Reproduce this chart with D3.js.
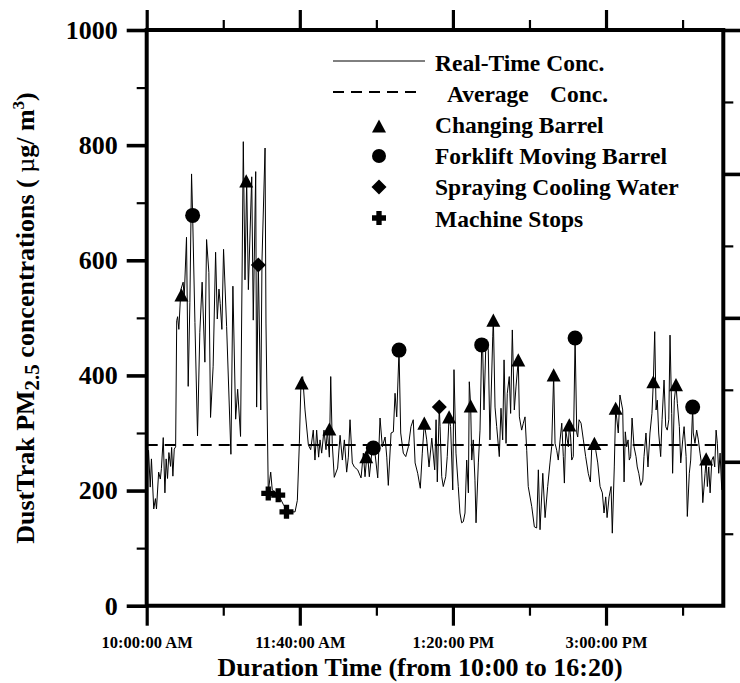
<!DOCTYPE html>
<html>
<head>
<meta charset="utf-8">
<script src="https://cdn.jsdelivr.net/npm/d3@7"></script>
<style>
  body { margin: 0; background: #fff; }
  svg { display: block; }
  text { font-family: "Liberation Serif", "Times New Roman", Times, serif; font-weight: bold; fill: #000; }
</style>
</head>
<body>
<svg id="chart" width="740" height="683"></svg>
<script>
// Real-time DustTrak PM2.5 readings: minutes after 10:00 and concentration (µg/m3)
const minutes = [
  0.0, 1.2, 2.3, 3.1, 4.6, 5.7, 6.4, 7.8, 8.9, 9.6, 10.8, 11.9, 12.7, 13.6, 14.5, 15.6, 16.3, 17.1, 18.0, 18.9,
  19.6, 20.2, 21.0, 22.3, 23.8, 24.5, 26.0, 27.1, 28.2, 29.3, 30.0, 31.5, 33.2, 34.7, 36.2, 38.0, 39.1, 40.6, 41.7, 43.4,
  45.0, 46.1, 47.2, 48.0, 49.1, 50.2, 52.2, 55.0, 56.3, 58.1, 59.4, 61.3, 63.1, 64.2, 65.3, 66.4, 68.6, 69.6, 71.2, 71.8,
  72.9, 74.5, 75.3, 77.3, 77.9, 79.4, 81.0, 82.0, 86.0, 89.2, 92.5, 96.9, 98.4, 99.7, 100.8, 101.9, 103.4, 105.6, 107.1, 108.8,
  109.9, 111.0, 112.3, 113.2, 114.3, 115.8, 117.1, 118.0, 119.3, 120.2, 121.2, 122.5, 124.7, 126.3, 127.8, 129.1, 130.6, 131.7, 132.8, 134.3,
  135.6, 137.8, 140.0, 141.5, 142.6, 144.1, 145.4, 147.4, 149.1, 150.9, 152.4, 153.9, 155.7, 156.8, 157.8, 159.6, 161.1, 162.2, 163.3, 164.8,
  165.9, 167.6, 169.2, 170.9, 172.6, 174.1, 175.3, 177.0, 178.7, 180.0, 181.3, 182.9, 184.4, 186.2, 188.1, 189.0, 189.8, 191.1, 191.6, 192.7,
  193.7, 195.3, 196.3, 197.5, 198.5, 199.9, 200.7, 202.0, 203.5, 204.6, 205.7, 206.8, 207.9, 209.0, 210.1, 210.7, 211.6, 212.3, 213.3, 214.4,
  215.1, 216.6, 217.7, 218.8, 219.5, 220.3, 221.6, 223.1, 224.2, 226.0, 226.4, 227.5, 228.6, 230.3, 231.4, 232.5, 233.4, 234.7, 235.5, 236.8,
  237.7, 238.8, 240.1, 241.2, 242.7, 243.4, 244.9, 246.0, 247.1, 248.2, 249.2, 251.5, 253.2, 254.7, 255.8, 256.9, 258.7, 260.2, 261.9, 263.4,
  264.5, 265.8, 266.7, 267.8, 268.8, 270.0, 271.1, 272.1, 272.8, 273.7, 275.4, 276.0, 276.9, 277.6, 278.6, 279.8, 280.9, 281.5, 282.4, 283.7,
  285.2, 286.7, 288.4, 289.8, 290.7, 292.4, 293.3, 294.6, 296.1, 297.6, 298.7, 299.8, 300.7, 302.0, 303.3, 304.1, 305.4, 306.3, 308.0, 309.1,
  310.9, 311.8, 312.6, 313.5, 314.4, 315.2, 316.1, 317.0, 318.3, 319.6, 320.4, 321.4, 322.7, 324.0, 324.8, 326.1, 327.4, 328.7, 330.0, 330.9,
  331.8, 332.7, 333.5, 334.4, 335.7, 336.6, 337.9, 339.0, 340.0, 341.0, 341.8, 342.9, 343.5, 344.6, 345.7, 346.6, 347.9, 348.8, 350.1, 351.0,
  352.3, 353.1, 354.4, 355.3, 356.6, 357.0, 358.1, 359.2, 360.3, 361.4, 362.3, 363.2, 364.7, 365.4, 366.2, 367.1, 368.0, 369.1, 370.1, 371.0,
  371.9, 372.7, 373.6, 374.5, 375.6
];
const conc = [
  215, 270, 206, 255, 168, 186, 168, 232, 220, 238, 292, 196, 255, 221, 266, 242, 275, 225, 272, 276,
  495, 502, 480, 549, 562, 535, 640, 381, 527, 750, 679, 492, 295, 475, 562, 423, 636, 579, 327, 416,
  614, 498, 550, 525, 480, 619, 485, 263, 555, 324, 376, 294, 806, 566, 740, 549, 745, 496, 754, 345,
  592, 340, 600, 795, 491, 198, 232, 201, 193, 176, 163, 163, 183, 282, 392, 398, 340, 279, 271, 305,
  253, 305, 258, 288, 265, 305, 271, 305, 258, 398, 282, 223, 239, 296, 253, 288, 232, 258, 323, 248,
  241, 236, 222, 265, 224, 270, 224, 276, 265, 222, 326, 276, 293, 258, 209, 300, 302, 369, 328, 444,
  300, 265, 259, 276, 311, 323, 248, 230, 204, 265, 317, 288, 241, 291, 236, 323, 215, 345, 311, 224,
  207, 224, 259, 328, 311, 201, 410, 265, 207, 161, 144, 146, 161, 253, 196, 389, 347, 253, 288, 218,
  144, 248, 305, 453, 439, 340, 462, 444, 288, 467, 500, 345, 311, 259, 343, 288, 427, 282, 369, 398,
  334, 479, 340, 380, 427, 328, 305, 317, 328, 270, 207, 172, 137, 135, 236, 132, 230, 153, 207, 248,
  276, 401, 282, 270, 253, 288, 317, 259, 213, 305, 276, 314, 293, 253, 259, 465, 300, 293, 323, 317,
  288, 259, 230, 215, 276, 282, 270, 248, 207, 196, 161, 189, 153, 189, 207, 126, 241, 343, 300, 366,
  340, 215, 302, 276, 288, 253, 259, 326, 276, 259, 241, 230, 209, 218, 259, 300, 241, 300, 334, 389,
  476, 340, 357, 300, 259, 323, 392, 311, 305, 323, 470, 334, 230, 357, 384, 351, 311, 248, 288, 311,
  259, 155, 230, 253, 345, 300, 282, 305, 288, 265, 248, 179, 230, 255, 207, 241, 196, 253, 259, 241,
  305, 282, 230, 265, 201
];
const averageConc = 279;

// Marked events: minute after 10:00 and concentration
const barrelMinutes = [22.7, 65.0, 101.2, 119.3, 143.4, 181.3, 197.5, 211.6, 226.4, 242.7, 265.8, 276.0, 292.4, 306.3, 330.9, 345.7, 365.4];
const barrelConc    = [540, 738, 387, 307, 259, 317, 328, 347, 496, 427, 401, 314, 282, 343, 389, 384, 255];
const forkliftMinutes = [30.0, 148.0, 164.8, 218.8, 279.8, 356.6];
const forkliftConc    = [678, 274, 444, 453, 465, 345];
const sprayMinutes = [72.9, 191.1];
const sprayConc    = [592, 345];
const stopMinutes = [79.4, 85.9, 91.3];
const stopConc    = [195, 192, 163];

// Axis ticks
const xMajorMinutes = [0, 100, 200, 300];
const xMinorMinutes = [50, 150, 250, 350];
const yMajorTicks = [0, 200, 400, 600, 800, 1000];
const yMinorTicks = [100, 300, 500, 700, 900];
const rightMajorTicks = [1, 2, 3, 4];
const rightMinorTicks = [0.5, 1.5, 2.5, 3.5];
const endMinute = 376.6;

const legendLabels = ["Real-Time Conc.", "Average", "Conc.", "Changing Barrel", "Forklift Moving Barrel", "Spraying Cooling Water", "Machine Stops"];

const startTime = new Date(2000, 0, 1, 10, 0, 0);
const toDate = m => new Date(startTime.getTime() + m * 60000);

const x = d3.scaleTime().domain([startTime, toDate(endMinute)]).range([146.7, 723.3]);
const y = d3.scaleLinear().domain([0, 1000]).range([605.7, 30]);
const yRight = d3.scaleLinear().domain([0, 4]).range([605.7, 30]);

const svg = d3.select("#chart");

// marker shapes
const triangleShape = { draw(ctx, s) { const w = s / 2, h = s * 0.47; ctx.moveTo(0, -h); ctx.lineTo(w, h); ctx.lineTo(-w, h); ctx.closePath(); } };
const circleShape = { draw(ctx, s) { ctx.moveTo(s / 2, 0); ctx.arc(0, 0, s / 2, 0, 2 * Math.PI); } };
const diamondShape = { draw(ctx, s) { const a = s / 2; ctx.moveTo(0, -a); ctx.lineTo(a, 0); ctx.lineTo(0, a); ctx.lineTo(-a, 0); ctx.closePath(); } };
const crossShape = { draw(ctx, s) {
  const a = s / 2, b = s * 0.19;
  ctx.moveTo(-b, -a); ctx.lineTo(b, -a); ctx.lineTo(b, -b); ctx.lineTo(a, -b); ctx.lineTo(a, b); ctx.lineTo(b, b);
  ctx.lineTo(b, a); ctx.lineTo(-b, a); ctx.lineTo(-b, b); ctx.lineTo(-a, b); ctx.lineTo(-a, -b); ctx.lineTo(-b, -b); ctx.closePath();
} };

function tickStyle(sel, width) {
  sel.select(".domain").remove();
  sel.selectAll(".tick line").attr("stroke", "#000").attr("stroke-width", width);
}

// bottom axis
svg.append("g").attr("transform", `translate(0,${y(0)})`)
  .call(d3.axisBottom(x).tickValues(xMinorMinutes.map(toDate)).tickSize(10).tickFormat(""))
  .call(tickStyle, 2.2);
const bottomMajor = svg.append("g").attr("transform", `translate(0,${y(0)})`)
  .call(d3.axisBottom(x).tickValues(xMajorMinutes.map(toDate)).tickSize(20).tickPadding(11)
    .tickFormat(d3.timeFormat("%-I:%M:%S %p")))
  .call(tickStyle, 3.2);
bottomMajor.selectAll("text").attr("font-size", 16.5).attr("font-family", null).attr("fill", "#000");

// top axis
svg.append("g").attr("transform", `translate(0,${y(1000)})`)
  .call(d3.axisTop(x).tickValues(xMinorMinutes.map(toDate)).tickSize(10).tickFormat(""))
  .call(tickStyle, 2.2);
svg.append("g").attr("transform", `translate(0,${y(1000)})`)
  .call(d3.axisTop(x).tickValues(xMajorMinutes.map(toDate)).tickSize(20).tickFormat(""))
  .call(tickStyle, 3.2);

// left axis
svg.append("g").attr("transform", `translate(${x.range()[0]},0)`)
  .call(d3.axisLeft(y).tickValues(yMinorTicks).tickSize(10).tickFormat(""))
  .call(tickStyle, 2.2);
const leftMajor = svg.append("g").attr("transform", `translate(${x.range()[0]},0)`)
  .call(d3.axisLeft(y).tickValues(yMajorTicks).tickSize(20).tickPadding(9).tickFormat(d3.format("d")))
  .call(tickStyle, 3.6);
leftMajor.selectAll("text").attr("font-size", 26).attr("font-family", null).attr("fill", "#000");

// right axis
svg.append("g").attr("transform", `translate(${x.range()[1]},0)`)
  .call(d3.axisRight(yRight).tickValues(rightMinorTicks).tickSize(10).tickFormat(""))
  .call(tickStyle, 2.2);
svg.append("g").attr("transform", `translate(${x.range()[1]},0)`)
  .call(d3.axisRight(yRight).tickValues(rightMajorTicks).tickSize(17).tickFormat(""))
  .call(tickStyle, 3.6);

// frame
const [x0, x1] = x.range();
svg.append("path")
  .attr("d", `M${x0},${y(1000)}H${x1}V${y(0)}H${x0}Z`)
  .attr("fill", "none").attr("stroke", "#000").attr("stroke-width", 4).attr("stroke-linejoin", "miter");

// average concentration
svg.append("line")
  .attr("x1", x0).attr("x2", x1).attr("y1", y(averageConc)).attr("y2", y(averageConc))
  .attr("stroke", "#000").attr("stroke-width", 2).attr("stroke-dasharray", "11,7");

// real-time concentration
const series = minutes.map((m, i) => [toDate(m), conc[i]]);
svg.append("path")
  .datum(series)
  .attr("d", d3.line().x(d => x(d[0])).y(d => y(d[1])))
  .attr("fill", "none").attr("stroke", "#000").attr("stroke-width", 1).attr("stroke-linejoin", "round");

// event markers
function drawMarkers(ms, vs, shape, size) {
  svg.append("g").selectAll("path")
    .data(ms.map((m, i) => [toDate(m), vs[i]]))
    .join("path")
    .attr("transform", d => `translate(${x(d[0])},${y(d[1])})`)
    .attr("d", d3.symbol().type(shape).size(size))
    .attr("fill", "#000");
}
drawMarkers(barrelMinutes, barrelConc, triangleShape, 14);
drawMarkers(forkliftMinutes, forkliftConc, circleShape, 15);
drawMarkers(sprayMinutes, sprayConc, diamondShape, 15);
drawMarkers(stopMinutes, stopConc, crossShape, 14);

// legend
const legend = svg.append("g");
legend.append("line").attr("x1", 333).attr("x2", 425).attr("y1", 61).attr("y2", 61)
  .attr("stroke", "#000").attr("stroke-width", 1);
legend.append("line").attr("x1", 333).attr("x2", 421).attr("y1", 92).attr("y2", 92)
  .attr("stroke", "#000").attr("stroke-width", 2).attr("stroke-dasharray", "11,7");
const legendSymbols = [[triangleShape, 126, 14], [circleShape, 156, 14], [diamondShape, 187, 15], [crossShape, 218, 14]];
legendSymbols.forEach(([shape, ly, s]) => {
  legend.append("path").attr("transform", `translate(379,${ly})`)
    .attr("d", d3.symbol().type(shape).size(s)()).attr("fill", "#000");
});
const legendFont = 23.5;
legend.append("text").attr("x", 435).attr("y", 70.5).attr("font-size", legendFont).text(legendLabels[0]);
const avgText = legend.append("text").attr("y", 101.5).attr("font-size", legendFont);
avgText.append("tspan").attr("x", 447).text(legendLabels[1]);
avgText.append("tspan").attr("x", 550).text(legendLabels[2]);
[[legendLabels[3], 133], [legendLabels[4], 164], [legendLabels[5], 195], [legendLabels[6], 227]].forEach(([t, ly]) => {
  legend.append("text").attr("x", 435).attr("y", ly).attr("font-size", legendFont).text(t);
});

// axis titles
svg.append("text").attr("x", 420).attr("y", 676).attr("text-anchor", "middle").attr("font-size", 26)
  .text("Duration Time (from 10:00 to 16:20)");

const yTitle = svg.append("text")
  .attr("transform", "translate(34,318) rotate(-90)")
  .attr("text-anchor", "middle").attr("font-size", 26);
yTitle.append("tspan").text("DustTrak PM");
yTitle.append("tspan").attr("font-size", 21).attr("dy", 5).text("2.5");
yTitle.append("tspan").attr("dy", -5).text(" concentrations ( ");
yTitle.append("tspan").attr("font-weight", "normal").text("\u00B5");
yTitle.append("tspan").text("g/ m");
yTitle.append("tspan").attr("font-size", 17).attr("dy", -10).text("3");
yTitle.append("tspan").attr("dy", 10).text(")");
</script>
</body>
</html>
